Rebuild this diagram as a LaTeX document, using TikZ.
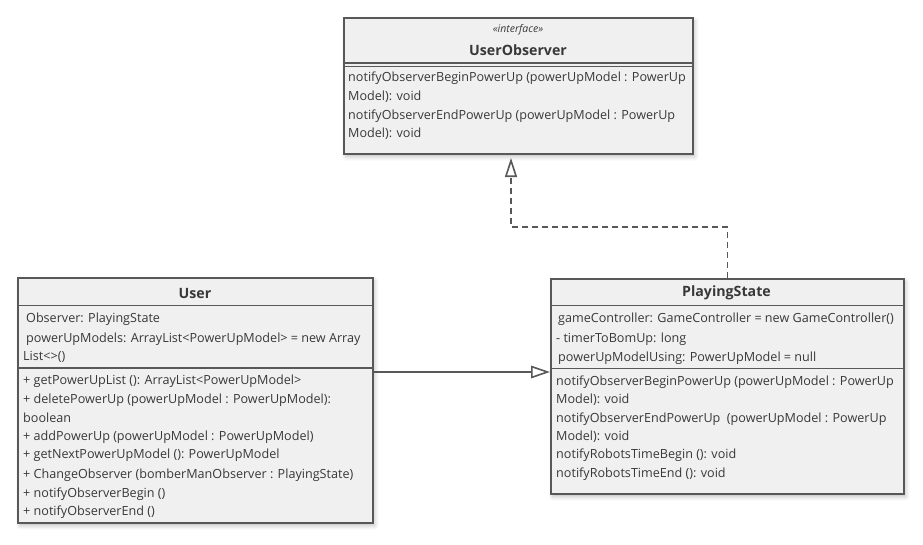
\documentclass[tikz,border=0pt]{standalone}
\usepackage{fontspec}
\setmainfont{Open Sans}
\usetikzlibrary{arrows.meta,shadows.blur}
\definecolor{umlline}{HTML}{585858}
\definecolor{umlfill}{HTML}{F0F0F0}
\definecolor{umltext}{HTML}{383838}
\tikzset{
  classbox/.style={draw=umlline, line width=1.6pt, fill=umlfill, inner sep=0pt, anchor=north west,
    blur shadow={shadow xshift=2pt, shadow yshift=-3pt, shadow blur radius=4pt, shadow opacity=25}},
  member/.style={anchor=west, inner sep=0pt, yshift=-1pt, text=umltext, font=\fontsize{12.6}{14}\selectfont},
  classname/.style={inner sep=0pt, text=umltext, font=\bfseries\fontsize{14.2}{16}\selectfont},
  stereo/.style={inner sep=0pt, text=umltext, font=\itshape\fontsize{10.5}{12}\selectfont},
  sepline/.style={draw=umlline, line width=1.3pt},
  realize/.style={draw=umlline, line width=1.6pt, dash pattern=on 6pt off 4pt,
    -{Triangle[open, length=19pt, width=12pt, line width=1.6pt]}},
  assoc/.style={draw=umlline, line width=1.6pt,
    -{Triangle[open, length=19pt, width=12.5pt, line width=1.6pt]}}
}
\begin{document}
\begin{tikzpicture}[x=1pt,y=-1pt]
\useasboundingbox (0,0) rectangle (923,544);
% draw boxes
\node[classbox, minimum width=349pt, minimum height=136pt] (obs) at (343,17) {};
\node[classbox, minimum width=355pt, minimum height=245pt] (user) at (17,277) {};
\node[classbox, minimum width=353pt, minimum height=215pt] (ps) at (550,278) {};
% draw compartment lines
\draw[sepline] (obs.west |- 0,63) -- (obs.east |- 0,63);
\draw[sepline] (obs.west |- 0,66.5) -- (obs.east |- 0,66.5);
\draw[sepline] (user.west |- 0,305.5) -- (user.east |- 0,305.5);
\draw[sepline] (user.west |- 0,368) -- (user.east |- 0,368);
\draw[sepline] (ps.west |- 0,305.5) -- (ps.east |- 0,305.5);
\draw[sepline] (ps.west |- 0,368.5) -- (ps.east |- 0,368.5);
% UserObserver
\node[stereo] (obsst) at (518,29.5) {«interface»};
\node[classname] (obsname) at (518,50) {UserObserver};
\node[member] (obs1) at (348,77) {notifyObserverBeginPowerUp (powerUpModel : PowerUp};
\node[member] (obs2) at (348,96) {Model): void};
\node[member] (obs3) at (348,115.5) {notifyObserverEndPowerUp (powerUpModel : PowerUp};
\node[member] (obs4) at (348,133) {Model): void};
% User
\node[classname] (username) at (195,293) {User};
\node[member] (ua1) at (26,318) {Observer: PlayingState};
\node[member] (ua2) at (26,338) {powerUpModels: ArrayList<PowerUpModel> = new Array};
\node[member] (ua3) at (23,356) {List<>()};
\node[member] (um1) at (23,380) {+ getPowerUpList (): ArrayList<PowerUpModel>};
\node[member] (um2) at (23,399) {+ deletePowerUp (powerUpModel : PowerUpModel):};
\node[member] (um3) at (23,417) {boolean};
\node[member] (um4) at (23,436) {+ addPowerUp (powerUpModel : PowerUpModel)};
\node[member] (um5) at (23,454.5) {+ getNextPowerUpModel (): PowerUpModel};
\node[member] (um6) at (23,474) {+ ChangeObserver (bomberManObserver : PlayingState)};
\node[member] (um7) at (23,493) {+ notifyObserverBegin ()};
\node[member] (um8) at (23,511) {+ notifyObserverEnd ()};
% PlayingState
\node[classname] (psname) at (726.5,293) {PlayingState};
\node[member] (pa1) at (558,318) {gameController: GameController = new GameController()};
\node[member] (pa2) at (556,338) {- timerToBomUp: long};
\node[member] (pa3) at (558,357) {powerUpModelUsing: PowerUpModel = null};
\node[member] (pm1) at (556,381) {notifyObserverBeginPowerUp (powerUpModel : PowerUp};
\node[member] (pm2) at (556,399) {Model): void};
\node[member] (pm3) at (556,418) {notifyObserverEndPowerUp\ \ (powerUpModel : PowerUp};
\node[member] (pm4) at (556,436) {Model): void};
\node[member] (pm5) at (556,454.5) {notifyRobotsTimeBegin (): void};
\node[member] (pm6) at (556,473.5) {notifyRobotsTimeEnd (): void};
% draw connectors
\coordinate (obstip) at (511,158);
\draw[realize] (ps.north) -- ++(0,-51) -| (obstip);
\draw[assoc] (user.east |- 0,372) -- (ps.west |- 0,372);
\end{tikzpicture}
\end{document}
